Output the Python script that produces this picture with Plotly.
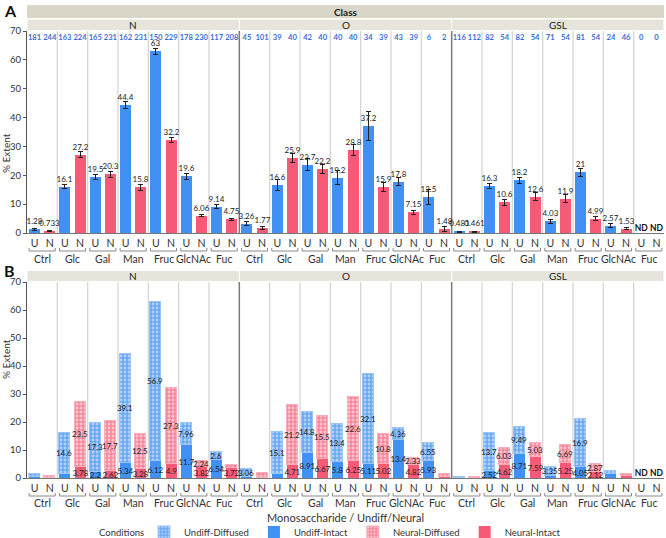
import plotly.graph_objects as go

classes = ["N", "O", "GSL"]
sugars = ["Ctrl", "Glc", "Gal", "Man", "Fruc", "GlcNAc", "Fuc"]
cells = ["U", "N"]

# Panel A: mean % extent per class x sugar (U = undifferentiated, N = neural)
extent_U = [1.28, 16.1, 19.5, 44.4, 63, 19.6, 9.14,
            3.26, 16.6, 23.7, 19.2, 37.2, 17.8, 12.5,
            0.481, 16.3, 18.2, 4.03, 21, 2.57, None]
extent_N = [0.733, 27.2, 20.3, 15.8, 32.2, 6.06, 4.75,
            1.77, 25.9, 22.2, 28.8, 15.9, 7.15, 1.48,
            0.461, 10.6, 12.6, 11.9, 4.99, 1.53, None]
err_U = [0.3, 0.8, 0.8, 1.3, 1.0, 1.0, 0.6,
         0.6, 1.8, 2.0, 2.5, 5.0, 1.3, 2.5,
         0.15, 1.0, 1.1, 0.8, 1.4, 0.7, 0]
err_N = [0.15, 0.9, 0.9, 0.9, 0.8, 0.3, 0.3,
         0.4, 1.5, 1.6, 2.0, 1.5, 0.6, 0.8,
         0.15, 1.1, 1.4, 1.3, 0.7, 0.35, 0]
count_U = [181, 163, 165, 162, 150, 178, 117,
           45, 39, 42, 40, 34, 43, 6,
           116, 82, 82, 71, 81, 24, 0]
count_N = [244, 224, 231, 231, 229, 230, 208,
           101, 40, 40, 40, 39, 39, 2,
           112, 54, 54, 54, 54, 46, 0]

# Panel B: split into intact and diffused
intact_U = [0.2, 1.5, 2.2, 5.34, 6.12, 11.7, 6.54,
            0.2, 1.5, 8.91, 5.8, 5.11, 13.4, 5.93,
            0.1, 2.52, 8.71, 0.68, 4.05, 1.5, None]
diffused_U = [1.08, 14.6, 17.3, 39.1, 56.9, 7.96, 2.6,
              3.06, 15.1, 14.8, 13.4, 32.1, 4.36, 6.55,
              0.38, 13.7, 9.49, 3.35, 16.9, 1.07, None]
intact_N = [0.1, 3.78, 2.62, 3.28, 4.9, 3.82, 3.72,
            0.1, 4.71, 6.67, 6.25, 5.02, 4.82, 0.28,
            0.1, 4.62, 7.59, 5.25, 2.12, 0.73, None]
diffused_N = [0.63, 23.5, 17.7, 12.5, 27.3, 2.24, 1.03,
              1.67, 21.2, 15.5, 22.6, 10.8, 2.33, 1.2,
              0.36, 6.03, 5.03, 6.69, 2.87, 0.8, None]

ng = len(classes) * len(sugars)
xU = [2 * i for i in range(ng)]
xN = [2 * i + 1 for i in range(ng)]

BLUE = "#4191F5"
RED = "#F55A76"
LBLUE = "#68a7f4"
LRED = "#f6889c"
FONT = "Lato"

def fmt(v):
    return "" if v is None else f"{v:.3g}"

def fmt_in(v):
    return "" if (v is None or v < 2) else f"{v:.3g}"

fig = go.Figure()

# ---------- Panel A ----------
for xs, ys, es, col in [(xU, extent_U, err_U, BLUE), (xN, extent_N, err_N, RED)]:
    fig.add_trace(go.Bar(
        x=xs, y=ys, width=0.72, marker=dict(color=col, line=dict(width=0)),
        error_y=dict(type="data", array=es, color="#222", thickness=1, width=2.5),
        text=[fmt(v) for v in ys], textposition="outside", textangle=0,
        constraintext="none", cliponaxis=False,
        textfont=dict(size=8.5, color="#222", family=FONT),
        showlegend=False, xaxis="x", yaxis="y", hoverinfo="skip"))

# counts row
fig.add_trace(go.Scatter(
    x=xU + xN, y=[67.6] * (2 * ng), mode="text",
    text=[str(c) for c in count_U + count_N],
    textfont=dict(size=7.6, color="#3b6fd6", family=FONT, weight="bold"),
    showlegend=False, xaxis="x", yaxis="y", hoverinfo="skip"))

# ND markers
nd_x = [xU[i] for i in range(ng) if extent_U[i] is None] + [xN[i] for i in range(ng) if extent_N[i] is None]
for ya in ["y", "y2"]:
    fig.add_trace(go.Scatter(
        x=nd_x, y=[0] * len(nd_x), mode="text", text=["ND"] * len(nd_x),
        textposition="top center",
        textfont=dict(size=8.5, color="#111", family=FONT, weight="bold"),
        showlegend=False, xaxis="x" if ya == "y" else "x2", yaxis=ya, hoverinfo="skip"))

# ---------- Panel B ----------
def pattern(bg):
    return dict(shape=".", fgcolor="white", bgcolor=bg, size=4, solidity=0.4)

def seg(xs, ys, name, rank, marker):
    return go.Bar(
        x=xs, y=ys, width=0.72, name=name, legendrank=rank, marker=marker,
        text=[fmt_in(v) for v in ys], textposition="inside", insidetextanchor="middle",
        textangle=0, constraintext="none", textfont=dict(size=8, color="#222", family=FONT),
        xaxis="x2", yaxis="y2", hoverinfo="skip")

fig.add_trace(seg(xU, intact_U, "Undiff-Intact", 2, dict(color=BLUE, line=dict(width=0))))
fig.add_trace(seg(xU, diffused_U, "Undiff-Diffused", 1,
                  dict(color=LBLUE, pattern=pattern(LBLUE), line=dict(color="#9cc5f7", width=1))))
fig.add_trace(seg(xN, intact_N, "Neural-Intact", 4, dict(color=RED, line=dict(width=0))))
fig.add_trace(seg(xN, diffused_N, "Neural-Diffused", 3,
                  dict(color=LRED, pattern=pattern(LRED), line=dict(color="#f8aebb", width=1))))

# ---------- Layout geometry ----------
W, H = 666, 538
ML, MR, MT, MB = 27, 2, 31, 60
PH = H - MT - MB
def py(px):  # pixel y -> paper y
    return (H - MB - px) / PH
def pxx(px):  # pixel x -> paper x
    return (px - ML) / (W - ML - MR)

A_dom = [py(233), 1.0]
B_dom = [0.0, py(282)]

shapes = []
annots = []

# vertical dividers
for dom in [A_dom, B_dom]:
    for g in range(1, ng):
        xb = 2 * g - 0.5
        major = g % len(sugars) == 0
        shapes.append(dict(type="line", xref="x", yref="paper", x0=xb, x1=xb, y0=dom[0], y1=dom[1],
                           line=dict(color="#7a7a7a" if major else "#d6d6d6", width=1.5 if major else 1.3),
                           layer="below"))

# nested axis brackets + sugar names
for ybr, ylab in [(py(251), py(259)), (py(496), py(503))]:
    for g in range(ng):
        x0 = 2 * g - 0.5 + 0.14
        x1 = 2 * g + 1.5 - 0.14
        up = ybr + 3 / PH
        shapes.append(dict(type="path", xref="x", yref="paper",
                           path=f"M {x0},{up} L {x0},{ybr} L {x1},{ybr} L {x1},{up}",
                           line=dict(color="#8a8a8a", width=1)))
        annots.append(dict(x=2 * g + 0.5, y=ylab, xref="x", yref="paper", text=sugars[g % len(sugars)],
                           showarrow=False, font=dict(size=10.5, color="#333", family=FONT), yanchor="middle"))

# header bands
shapes.append(dict(type="rect", xref="paper", yref="paper", x0=0, x1=1, y0=py(18), y1=py(5),
                   fillcolor="#dad7c9", line=dict(width=0)))
annots.append(dict(x=0.5, y=py(11.5), xref="paper", yref="paper", text="<b>Class</b>", showarrow=False,
                   font=dict(size=10, color="#222", family=FONT), yanchor="middle"))
for (yt, yb) in [(19, 30.5), (270.5, 281.5)]:
    for c, cname in enumerate(classes):
        x0 = 14 * c - 0.5
        x1 = 14 * c + 13.5
        shapes.append(dict(type="rect", xref="x", yref="paper", x0=x0, x1=x1, y0=py(yb), y1=py(yt),
                           fillcolor="#e7e5db", line=dict(color="white", width=1)))
        annots.append(dict(x=(x0 + x1) / 2, y=py((yt + yb) / 2), xref="x", yref="paper", text=cname,
                           showarrow=False, font=dict(size=10, color="#222", family=FONT), yanchor="middle"))

# panel letters and axis titles
annots.append(dict(x=pxx(2), y=py(11), xref="paper", yref="paper", text="<b>A</b>", showarrow=False,
                   xanchor="left", yanchor="middle", font=dict(size=16, color="#111", family=FONT)))
annots.append(dict(x=pxx(2), y=py(270), xref="paper", yref="paper", text="<b>B</b>", showarrow=False,
                   xanchor="left", yanchor="middle", font=dict(size=16, color="#111", family=FONT)))
for ypx in [132, 380]:
    annots.append(dict(x=pxx(-1), y=py(ypx), xref="paper", yref="paper", text="% Extent", textangle=-90,
                       showarrow=False, xanchor="left", borderpad=0,
                       font=dict(size=10, color="#333", family=FONT)))
annots.append(dict(x=0.5, y=py(517), xref="paper", yref="paper", text="Monosaccharide / Undiff/Neural",
                   showarrow=False, yanchor="middle", font=dict(size=11, color="#333", family=FONT)))
annots.append(dict(x=pxx(146), y=py(532), xref="paper", yref="paper", text="Conditions",
                   showarrow=False, xanchor="right", yanchor="middle", font=dict(size=9.5, color="#333", family=FONT)))

xcommon = dict(range=[-0.5, 2 * ng - 0.5], tickvals=xU + xN, ticktext=["U"] * ng + ["N"] * ng,
               showgrid=False, zeroline=False, showline=True, linecolor="#777", ticks="",
               tickfont=dict(size=10.5, color="#333", family=FONT), fixedrange=True)
ycommon = dict(range=[0, 70], tickvals=list(range(0, 71, 10)), showgrid=False, zeroline=False,
               showline=True, linecolor="#555", ticks="outside", ticklen=3, tickcolor="#555",
               tickfont=dict(size=9.5, color="#333", family=FONT))

fig.update_layout(
    width=W, height=H, margin=dict(l=ML, r=MR, t=MT, b=MB, autoexpand=False),
    paper_bgcolor="white", plot_bgcolor="white",
    barmode="stack", bargap=0,
    uniformtext=dict(minsize=8, mode="show"),
    font=dict(family=FONT, color="#333"),
    xaxis=dict(domain=[0, 1], anchor="y", **xcommon),
    xaxis2=dict(domain=[0, 1], anchor="y2", **xcommon),
    yaxis=dict(domain=A_dom, anchor="x", **ycommon),
    yaxis2=dict(domain=B_dom, anchor="x2", **ycommon),
    shapes=shapes, annotations=annots,
    legend=dict(orientation="h", x=pxx(144), y=py(532), xanchor="left", yanchor="middle",
                font=dict(size=9.5, color="#333", family=FONT), bgcolor="rgba(0,0,0,0)",
                itemwidth=30, traceorder="normal", borderwidth=0),
)

fig.write_html("out.html", config={"displayModeBar": False},
               post_script="document.body.style.margin='0';document.body.style.padding='0';")
